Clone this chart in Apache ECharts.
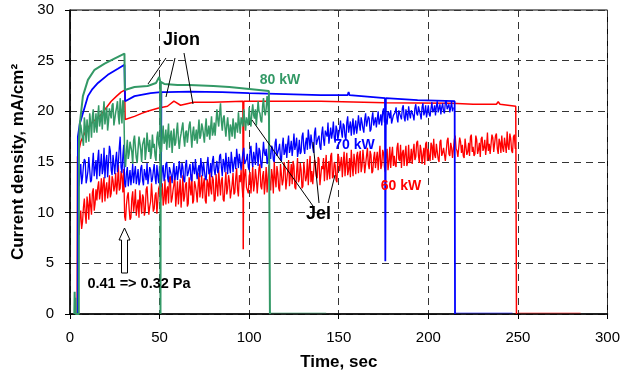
<!DOCTYPE html>
<html>
<head>
<meta charset="utf-8">
<script src="https://cdn.jsdelivr.net/npm/echarts@6/dist/echarts.min.js"></script>
<style>html,body{margin:0;padding:0;background:#fff}#c{width:623px;height:377px}</style>
</head>
<body>
<div id="c"></div>
<script>
// ---------- axis ticks ----------
const xTicks = [0, 50, 100, 150, 200, 250, 300];
const yTicks = [0, 5, 10, 15, 20, 25, 30];

// ---------- Jion (smooth) curves: time (s) and current density (mA/cm2) ----------
const redJionT = [4.0, 4.2, 6, 8, 10, 13, 17, 20, 23, 26, 28.5, 30.5, 30.8, 36, 40, 43.3, 49, 54.4, 58, 61.7, 69, 80, 96.5, 96.7, 97.0, 103.7, 140, 176, 213, 225, 238, 239, 240, 248.8, 249.2];
const redJionV = [0, 15.5, 17.0, 17.8, 18.4, 19.0, 19.6, 20.3, 21.0, 21.5, 21.9, 22.1, 19.2, 19.5, 19.8, 20.0, 20.3, 20.5, 21.0, 20.6, 20.9, 20.9, 21.0, 6.4, 21.0, 21.0, 21.0, 20.85, 20.8, 20.7, 20.7, 20.95, 20.7, 20.5, 0];

const blueJionT = [4.3, 4.4, 5.5, 7.2, 10, 12.5, 15.6, 21.1, 26.7, 30.4, 30.8, 36, 45, 50.6, 50.8, 51.0, 54, 67, 85, 100, 120, 140, 155, 155.5, 156, 175.8, 176.0, 176.3, 194, 214.7, 214.9];
const blueJionV = [0, 17.5, 18.8, 19.8, 21.5, 22.2, 22.8, 23.6, 24.2, 24.6, 21.0, 21.5, 21.8, 21.9, 12.5, 21.9, 21.9, 21.95, 21.9, 21.8, 21.7, 21.6, 21.6, 21.9, 21.6, 21.3, 5.2, 21.3, 21.1, 21.0, 0];

const greenJionT = [2.4, 2.6, 2.8, 3.0, 3.2, 4.9, 5.0, 5.5, 7.2, 10, 13.7, 19.3, 24.8, 30.4, 30.6, 31.5, 36, 43.3, 48, 49.8, 50.3, 50.5, 50.7, 51.2, 52.6, 60, 66.7, 80, 88.9, 100, 111, 111.5, 111.6];
const greenJionV = [0, 2.2, 0, 1.6, 0, 0, 17.0, 18.8, 21.5, 23.1, 24.1, 24.7, 25.2, 25.7, 22.1, 22.2, 22.4, 22.5, 22.8, 23.4, 23.0, 0, 22.9, 22.8, 22.7, 22.6, 22.6, 22.5, 22.4, 22.2, 22.0, 21.9, 0];

// ---------- Jel (noisy) curves: samples on whole seconds + samples on half seconds ----------
const redJelStart = 5, blueJelStart = 5, greenJelStart = 5, jelStep = 1;
const redJelV = [
 7.8,10.2,9.1,11.4,8.9,10.8,11.9,9.8,12.4,10.9,
 11.2,13.1,12.0,11.0,13.5,12.4,11.4,13.7,11.9,13.2,
 12.6,11.8,14.7,12.4,13.6,14.3,
 9.2,11.6,10.4,9.5,12.1,10.9,9.7,11.3,12.2,9.9,
 11.5,10.2,12.6,9.8,11.1,12.8,10.4,12.0,10.0,12.7,
 11.8,10.7,13.3,12.2,10.9,13.6,11.4,12.8,10.6,13.1,
 12.1,10.5,13.7,11.6,13.0,10.9,12.5,13.8,11.2,12.7,
 11.0,13.9,12.3,11.4,13.4,10.9,12.9,14.0,11.8,13.2,
 11.3,12.6,14.2,11.7,13.5,11.1,14.0,12.4,13.1,11.5,
 13.9,12.0,14.4,11.6,13.0,12.7,11.4,14.3,12.2,13.6,
 11.9,14.6,12.8,13.4,11.8,14.8,12.3,14.1,13.0,12.0,
 14.7,12.2,13.6,15.1,12.5,13.9,12.1,14.9,13.2,14.4,
 12.4,15.2,13.7,12.8,14.6,12.3,15.4,13.3,14.2,12.6,
 15.0,13.5,12.7,15.6,14.1,12.9,14.8,13.4,15.3,12.8,
 14.3,13.1,15.7,14.0,13.3,15.9,13.6,14.7,13.0,15.5,
 14.2,13.5,16.0,14.8,13.7,15.4,16.2,13.6,14.9,15.6,
 13.9,16.1,14.6,15.2,13.8,16.4,14.3,15.7,14.1,16.0,
 15.3,14.2,16.6,14.7,15.9,14.0,16.3,15.0,14.4,16.5,
 15.6,14.5,16.9,15.1,14.4,16.2,15.8,14.6,16.7,15.2,
 14.8,16.8,15.5,17.1,14.9,16.1,15.7,14.7,17.0,16.3,
 15.1,16.6,17.3,15.4,16.0,15.0,17.2,15.9,16.5,15.2,
 17.4,15.6,16.4,15.3,17.6,16.1,15.5,17.0,16.7,15.4,
 17.3,16.0,15.6,17.7,16.5,15.8,17.2,16.2,15.5,17.5,
 16.4,15.7,17.9,16.8,15.9,17.4,16.1,17.8,15.8,16.9,
 17.6,16.0,16.7,18.0,16.2,17.3,15.9,17.7,16.4
];
const redJelHalfV = [
 9.6,8.4,10.5,9.9,11.6,9.3,10.7,12.0,10.2,12.3,
 12.5,11.3,13.4,12.8,11.1,13.0,12.2,11.5,13.6,12.1,
 13.9,12.9,12.2,14.1,12.0,9.6,
 10.8,12.0,9.3,11.4,10.1,12.3,10.6,9.5,11.0,11.8,
 9.7,12.3,11.0,10.6,12.9,10.1,11.7,9.9,12.4,11.2,
 12.9,11.3,10.8,12.6,13.4,11.0,12.2,13.7,11.7,10.8,
 13.3,11.9,11.1,12.8,10.6,13.5,11.7,10.9,13.1,12.0,
 12.6,11.5,13.7,12.9,11.2,13.3,11.6,12.4,13.6,11.1,
 13.8,11.6,12.9,13.2,11.3,12.7,11.8,13.7,11.4,12.8,
 11.8,13.4,12.3,13.7,14.2,11.5,13.8,12.5,11.9,14.0,
 13.2,12.1,14.3,11.9,14.4,12.6,13.6,11.8,14.5,13.3,
 12.9,14.3,11.9,13.4,14.6,12.4,14.8,12.7,15.0,12.3,
 14.1,12.6,14.8,15.1,12.5,14.0,13.0,14.9,12.4,15.0,
 13.1,15.3,14.4,13.0,12.8,15.2,13.6,15.5,12.7,14.6,
 15.4,14.6,13.2,15.1,15.6,13.4,15.0,13.2,15.8,14.1,
 15.5,14.9,13.6,15.9,14.2,13.5,14.6,15.8,13.8,16.0,
 15.5,14.0,16.2,13.9,15.6,14.8,16.1,13.9,15.4,14.4,
 16.0,15.5,14.3,16.2,14.5,15.6,14.2,16.5,15.7,14.6,
 14.7,16.4,15.3,16.7,15.9,14.6,16.6,15.0,14.9,16.3,
 16.0,15.2,16.9,15.6,16.7,14.8,16.4,16.8,15.1,15.5,
 16.9,15.2,15.7,16.8,15.3,17.0,15.6,16.4,15.1,17.1,
 15.8,16.9,15.4,17.2,16.3,15.5,17.4,15.9,15.6,17.3,
 15.7,16.9,17.5,16.0,15.6,17.6,15.8,16.9,17.3,16.1,
 17.2,16.5,16.1,15.8,17.7,16.0,17.6,16.3,17.3,15.9,
 16.4,17.4,15.9,16.6,17.8,16.1,17.5,16.3
];
const blueJelV = [
 12.6,14.8,13.5,15.3,12.9,14.1,15.6,13.2,15.9,14.4,
 13.3,16.2,14.6,13.8,16.4,15.0,13.5,16.6,14.2,15.7,
 13.8,16.0,14.9,17.5,13.9,16.7,
 12.5,14.5,13.4,12.7,14.8,13.9,12.8,14.3,13.1,14.7,
 12.7,13.8,14.9,12.9,14.2,13.3,14.8,12.8,13.7,14.6,
 12.9,14.7,13.6,15.0,13.0,14.1,12.9,14.9,13.8,13.2,
 15.1,13.4,14.5,13.0,15.2,13.9,14.8,13.1,14.3,15.3,
 13.3,14.7,15.4,13.6,14.2,13.2,15.5,14.0,13.5,15.6,
 13.7,15.1,14.3,15.8,13.6,14.9,15.9,13.8,14.6,16.0,
 14.0,15.5,16.3,14.4,15.1,14.1,16.4,14.9,15.8,14.2,
 16.6,14.5,15.4,16.9,14.6,16.1,14.4,17.0,15.6,14.8,
 17.1,15.3,16.4,15.0,17.3,15.7,16.8,15.1,17.4,16.0,
 15.4,17.6,16.3,15.6,17.8,16.7,15.5,17.2,16.0,17.9,
 15.8,17.4,18.2,16.3,17.0,15.9,18.4,16.8,17.6,16.2,
 18.5,16.6,17.8,18.9,16.7,17.3,19.0,16.9,18.2,17.1,
 19.1,17.4,18.6,17.2,19.5,18.0,17.6,19.3,18.4,17.8,
 19.6,18.1,18.9,17.9,19.8,18.5,19.3,18.2,19.9,18.7,
 18.4,20.0,19.1,18.6,20.3,19.4,18.7,19.8,20.1,18.9,
 19.5,20.4,18.9,20.0,19.2,20.6,19.0,19.7,20.5,19.3,
 20.2,19.1,20.7,19.6,20.4,19.2,20.8,19.9,19.4,20.6,
 19.5,20.9,20.1,19.6,21.0,20.3,19.7,20.8,19.8,21.1,
 20.2,19.9,21.0,20.4
];
const blueJelHalfV = [
 13.9,12.8,14.6,15.1,13.4,15.5,13.0,14.7,13.6,15.2,
 15.3,13.6,15.8,14.3,13.4,15.7,14.9,16.1,13.7,14.8,
 15.2,14.0,16.4,14.5,15.6,12.9,
 13.9,12.6,14.2,13.6,12.9,14.6,13.5,12.7,14.4,13.2,
 14.3,13.2,12.8,14.5,13.0,14.1,13.5,14.7,12.9,13.4,
 14.2,13.1,14.8,13.4,14.5,13.7,14.0,13.2,14.6,14.1,
 14.2,14.9,13.2,14.7,13.6,14.4,13.3,15.0,13.8,14.1,
 14.3,13.5,14.6,15.0,13.4,14.8,13.8,14.9,15.1,14.2,
 14.6,13.9,15.6,14.5,15.3,14.0,14.7,15.5,13.9,15.1,
 14.9,14.3,15.4,15.8,14.2,15.9,14.8,15.3,14.5,16.1,
 15.2,16.0,14.7,15.8,16.4,14.9,15.7,15.9,16.3,15.2,
 15.9,16.6,15.2,16.9,15.6,16.3,15.3,16.6,15.7,16.8,
 16.8,15.9,17.1,16.5,16.2,17.4,16.1,15.8,17.5,16.4,
 16.9,16.2,17.3,17.7,16.4,17.9,16.7,17.4,16.5,17.8,
 17.2,18.1,17.5,16.8,18.4,17.9,17.4,18.6,17.2,18.3,
 18.0,18.8,17.5,18.9,17.9,19.0,18.6,17.7,19.1,18.5,
 18.7,19.4,18.3,19.2,18.5,19.5,18.0,19.3,18.6,19.4,
 19.2,18.7,19.7,19.9,18.9,19.1,20.0,19.3,18.8,19.6,
 19.9,19.4,20.1,19.5,20.3,19.4,20.2,19.1,19.8,20.1,
 19.6,20.3,19.8,20.5,19.7,20.4,19.6,20.6,20.0,19.7,
 20.3,19.9,20.6,20.5,19.9,20.7,20.4,20.0,20.9,20.2,
 20.7,20.4,20.0
];
const greenJelV = [
 16.0,18.7,17.3,19.4,16.9,18.2,19.8,17.4,20.2,18.5,
 17.9,20.6,19.1,18.2,21.0,19.6,18.1,20.3,19.3,20.8,
 18.6,20.4,19.5,21.3,18.8,20.9,
 14.5,17.2,15.8,16.9,14.8,17.6,15.4,16.3,17.4,15.0,
 16.6,15.2,17.9,16.0,15.3,17.7,16.8,15.1,18.0,16.4,
 16.0,18.6,17.1,16.2,18.8,17.5,15.9,18.3,16.9,18.9,
 16.3,17.8,18.9,16.5,18.1,17.0,19.0,16.4,18.5,17.4,
 16.8,19.2,17.6,18.4,16.9,19.3,17.9,17.2,19.5,18.0,
 17.6,20.2,18.5,20.8,18.1,19.6,17.5,19.4,17.1,18.3,
 19.3,17.3,18.6,19.9,17.8,19.0,20.2,18.1,19.5,20.4,
 18.5,20.7,19.3,18.6,21.0,19.8,18.9,21.3,19.6,21.5,19.3
];
const greenJelHalfV = [
 17.8,18.0,16.6,18.5,19.2,17.0,18.9,19.5,17.9,19.8,
 19.4,18.5,20.1,19.8,18.7,20.4,19.0,19.7,20.6,18.6,
 19.9,21.0,18.7,20.0,21.1,15.6,
 16.1,15.3,17.0,16.0,17.1,16.4,14.9,17.5,16.2,16.7,
 17.4,16.1,16.7,17.2,15.9,16.4,15.6,17.4,16.8,17.1,
 17.4,16.8,18.2,17.6,16.4,18.1,17.3,16.6,18.0,17.2,
 17.3,18.4,17.4,17.9,16.9,18.6,17.7,17.9,17.1,18.2,
 18.0,17.3,18.8,17.7,18.3,17.5,18.6,18.4,17.6,18.9,
 18.9,19.2,19.8,19.0,19.3,18.4,18.6,18.3,18.7,17.5,
 18.4,18.9,17.9,18.8,19.4,18.5,19.1,19.4,18.6,19.2,
 19.9,19.6,20.2,19.8,20.0,19.1,20.5,20.0,20.3,20.6
];

// ---------- faint zero tails after shut-off ----------
const greenTailT = [111.6, 143], greenTailV = [0.1, 0.1];
const blueTailT = [215, 247], blueTailV = [0.1, 0.1];
const redTailT = [250, 285], redTailV = [0.1, 0.1];

// ---------- labels ----------
const xName = 'Time, sec';
const yName = 'Current density, mA/cm²';

const RED = '#ff0000', BLUE = '#0000ff', GREEN = '#339966';

function pairs(ts, vs) { return ts.map((t, i) => [t, vs[i]]); }
function interleave(start, step, whole, half) {
  const out = [];
  whole.forEach((v, i) => {
    out.push([start + i * step, v]);
    if (i < half.length) out.push([start + (i + 0.5) * step, half[i]]);
  });
  return out;
}

function lineSeries(data, color, width, z, opacity) {
  return {
    type: 'line', data: data, showSymbol: false, symbol: 'none', z: z,
    lineStyle: { color: color, width: width, opacity: opacity == null ? 1 : opacity },
    animation: false, silent: true
  };
}

const chart = echarts.init(document.getElementById('c'), null, { renderer: 'canvas' });
const FF = 'Arial, "Liberation Sans", Helvetica, sans-serif';

chart.setOption({
  backgroundColor: '#fff',
  animation: false,
  grid: { left: 70, right: 13, top: 10, bottom: 63, show: true, borderColor: '#000', borderWidth: 1, backgroundColor: 'transparent' },
  xAxis: {
    type: 'value', min: xTicks[0], max: xTicks[xTicks.length - 1], interval: 50,
    name: xName, nameLocation: 'middle', nameGap: 40,
    nameTextStyle: { fontFamily: FF, fontSize: 17, fontWeight: 'bold', color: '#000' },
    axisLine: { show: true, onZero: false, lineStyle: { color: '#000', width: 1.5 } },
    axisTick: { show: true, inside: false, length: 5, lineStyle: { color: '#000' } },
    axisLabel: { fontFamily: FF, fontSize: 15, color: '#000', margin: 16 },
    splitLine: { show: true, lineStyle: { color: '#333', width: 1, type: [7, 5] } }
  },
  yAxis: {
    type: 'value', min: yTicks[0], max: yTicks[yTicks.length - 1], interval: 5,
    name: yName, nameLocation: 'middle', nameGap: 38,
    nameTextStyle: { fontFamily: FF, fontSize: 17, fontWeight: 'bold', color: '#000' },
    axisLine: { show: true, onZero: false, lineStyle: { color: '#000', width: 1.5 } },
    axisTick: { show: true, inside: false, length: 5, lineStyle: { color: '#000' } },
    axisLabel: { fontFamily: FF, fontSize: 15, color: '#000', margin: 16 },
    splitLine: { show: true, lineStyle: { color: '#333', width: 1, type: [7, 5] } }
  },
  series: [
    lineSeries(pairs(redTailT, redTailV), RED, 1, 1, 0.5),
    lineSeries(pairs(blueTailT, blueTailV), BLUE, 1, 1, 0.5),
    lineSeries(pairs(greenTailT, greenTailV), GREEN, 1, 1, 0.5),
    lineSeries(interleave(redJelStart, jelStep, redJelV, redJelHalfV), RED, 1.3, 2),
    lineSeries(pairs(redJionT, redJionV), RED, 1.5, 3),
    lineSeries(interleave(blueJelStart, jelStep, blueJelV, blueJelHalfV), BLUE, 1.3, 4),
    lineSeries(pairs(blueJionT, blueJionV), BLUE, 1.8, 5),
    lineSeries(interleave(greenJelStart, jelStep, greenJelV, greenJelHalfV), GREEN, 1.5, 6),
    lineSeries(pairs(greenJionT, greenJionV), GREEN, 2, 7)
  ],
  graphic: [
    // Jion pointer lines
    { type: 'line', shape: { x1: 166, y1: 58, x2: 148, y2: 84 }, style: { stroke: '#000', lineWidth: 1 }, z: 100 },
    { type: 'line', shape: { x1: 175, y1: 58, x2: 166, y2: 97 }, style: { stroke: '#000', lineWidth: 1 }, z: 100 },
    { type: 'line', shape: { x1: 184, y1: 53, x2: 193, y2: 104 }, style: { stroke: '#000', lineWidth: 1 }, z: 100 },
    // Jel pointer lines
    { type: 'line', shape: { x1: 252, y1: 120, x2: 313, y2: 206 }, style: { stroke: '#000', lineWidth: 1 }, z: 100 },
    { type: 'line', shape: { x1: 313, y1: 142, x2: 319, y2: 203 }, style: { stroke: '#000', lineWidth: 1 }, z: 100 },
    { type: 'line', shape: { x1: 335, y1: 175, x2: 328, y2: 203 }, style: { stroke: '#000', lineWidth: 1 }, z: 100 },
    // labels
    { type: 'text', x: 181.5, y: 40, z: 101, style: { text: 'Jion', font: 'bold 18px ' + FF, fill: '#000', align: 'center', verticalAlign: 'middle' } },
    { type: 'text', x: 318.5, y: 214, z: 101, style: { text: 'Jel', font: 'bold 18px ' + FF, fill: '#000', align: 'center', verticalAlign: 'middle' } },
    { type: 'text', x: 280, y: 80, z: 101, style: { text: '80 kW', font: 'bold 14px ' + FF, fill: GREEN, align: 'center', verticalAlign: 'middle' } },
    { type: 'text', x: 354.5, y: 145, z: 101, style: { text: '70 kW', font: 'bold 14px ' + FF, fill: BLUE, align: 'center', verticalAlign: 'middle' } },
    { type: 'text', x: 401, y: 186, z: 101, style: { text: '60 kW', font: 'bold 14px ' + FF, fill: RED, align: 'center', verticalAlign: 'middle' } },
    { type: 'text', x: 139, y: 284, z: 101, style: { text: '0.41 => 0.32 Pa', font: 'bold 14.5px ' + FF, fill: '#000', align: 'center', verticalAlign: 'middle' } },
    // hollow up arrow
    { type: 'polygon', z: 101, shape: { points: [[124.5, 228], [130, 240], [127.5, 240], [127.5, 273], [121.5, 273], [121.5, 240], [119, 240]] }, style: { fill: '#fff', stroke: '#000', lineWidth: 1 } }
  ]
});
</script>
</body>
</html>
